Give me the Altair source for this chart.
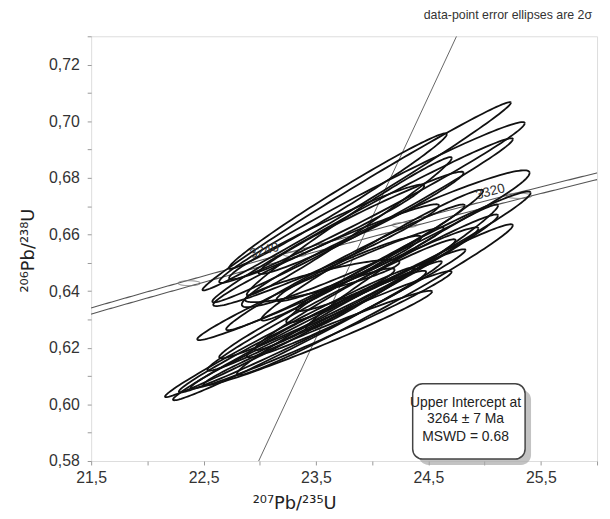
import math
import numpy as np
import pandas as pd
import altair as alt

FONT = "Liberation Sans"
TFONT = "DejaVu Sans"

# --- decay constants (Jaffey et al.) used for the concordia curve ---
L238 = 1.55125e-10
L235 = 9.8485e-10
L235_REL_2S = 0.00136      # 2-sigma relative uncertainty of lambda235 (band)
L238_REL_2S = 0.00107

# --- data-point error ellipses (2 sigma): 207Pb/235U, 2s, 206Pb/238U, 2s, rho ---
ell_x = [23.266, 23.424, 23.555, 23.546, 23.516, 23.638, 23.792, 23.682,
         24.037, 24.024, 23.590, 23.595, 23.555, 23.901, 23.792, 23.761,
         23.862, 23.998, 23.915, 24.120, 23.695, 23.796, 24.322, 24.265,
         23.762, 23.540, 24.000]
ell_sx = [1.109, 1.196, 1.275, 1.161, 1.017, 1.104, 1.153, 0.798,
          1.082, 1.227, 1.004, 0.868, 0.688, 0.912, 0.644, 0.438,
          1.372, 1.359, 1.337, 1.280, 0.969, 0.912, 1.087, 0.855,
          1.061, 1.096, 0.987]
ell_y = [0.6255, 0.6260, 0.6295, 0.6263, 0.6234, 0.6351, 0.6394, 0.6319,
         0.6431, 0.6370, 0.6527, 0.6609, 0.6436, 0.6641, 0.6480, 0.6405,
         0.6735, 0.6713, 0.6650, 0.6585, 0.6718, 0.6629, 0.6520, 0.6484,
         0.6484, 0.6426, 0.6527]
ell_sy = [0.02294, 0.02455, 0.02528, 0.02075, 0.01673, 0.02322, 0.02311, 0.01527,
          0.02397, 0.02661, 0.01798, 0.01671, 0.00751, 0.01807, 0.01155, 0.00753,
          0.03326, 0.02839, 0.02898, 0.02416, 0.02391, 0.02443, 0.02318, 0.02219,
          0.02220, 0.01990, 0.02310]
ell_rho = [0.991, 0.990, 0.989, 0.986, 0.982, 0.986, 0.983, 0.973,
           0.985, 0.985, 0.973, 0.973, 0.884, 0.977, 0.954, 0.929,
           0.9934, 0.985, 0.989, 0.962, 0.987, 0.987, 0.980, 0.984,
           0.984, 0.984, 0.983]

# --- concordia ---
conc_age_min, conc_age_max = 3140, 3370      # Ma, range drawn
marker_ages = [3200, 3240, 3280, 3320]        # Ma, age markers on concordia
label_ages = ["3240", "3320"]
label_x = [23.04, 25.05]
label_y = [0.6543, 0.6751]

# --- discordia (regression line) end points ---
disc_x = [22.99, 24.75]
disc_y = [0.58, 0.73]

# --- info box ---
box_x = [24.36, 25.36]
box_y = [0.5807, 0.6073]
box_lines = ["Upper Intercept at", "3264 \u00b1 7  Ma", "MSWD = 0.68"]
box_line_x = [24.83, 24.83, 24.83]
box_line_y = [0.6006, 0.5947, 0.5884]

x_ticks = [21.5, 22.0, 22.5, 23.0, 23.5, 24.0, 24.5, 25.0, 25.5, 26.0]
y_ticks = [0.58, 0.59, 0.60, 0.61, 0.62, 0.63, 0.64, 0.65, 0.66, 0.67,
           0.68, 0.69, 0.70, 0.71, 0.72, 0.73]

X_TITLE = "\u00b2\u2070\u2077Pb/\u00b2\u00b3\u2075U"
Y_TITLE = "\u00b2\u2070\u2076Pb/\u00b2\u00b3\u2078U"

# ---------- build tables ----------
rows = []
tt = np.linspace(0, 2 * math.pi, 145)
for k in range(len(ell_x)):
    r = ell_rho[k]
    for i, t in enumerate(tt):
        rows.append({
            "id": k, "i": i,
            "x": ell_x[k] + ell_sx[k] * math.cos(t),
            "y": ell_y[k] + ell_sy[k] * (r * math.cos(t) + math.sqrt(1 - r * r) * math.sin(t)),
        })
ell_df = pd.DataFrame(rows)

ages = np.arange(conc_age_min, conc_age_max + 1, 1.0) * 1e6
crow = []
for s, sign in enumerate([-1, 1]):
    for i, a in enumerate(ages):
        crow.append({"series": s, "i": i,
                     "x": math.exp(L235 * (1 + sign * L235_REL_2S) * a) - 1,
                     "y": math.exp(L238 * a) - 1})
conc_df = pd.DataFrame(crow)

mrow = []
for k, a in enumerate(marker_ages):
    t_ = a * 1e6
    cx = math.exp(L235 * t_) - 1
    cy = math.exp(L238 * t_) - 1
    sx = (cx + 1) * L235 * t_ * L235_REL_2S
    sy = (cy + 1) * L238 * t_ * L238_REL_2S
    for i, t in enumerate(tt):
        mrow.append({"id": k, "i": i, "x": cx + sx * math.cos(t), "y": cy + sy * math.sin(t)})
mark_df = pd.DataFrame(mrow)

disc_df = pd.DataFrame({"x": disc_x, "y": disc_y})
lab_df = pd.DataFrame({"x": label_x, "y": label_y, "t": label_ages})
box_df = pd.DataFrame({"x": [box_x[0]], "x2": [box_x[1]], "y": [box_y[0]], "y2": [box_y[1]]})
btxt_df = pd.DataFrame({"x": box_line_x, "y": box_line_y, "t": box_lines})

# ---------- scales & axes ----------
X_SCALE = alt.Scale(domain=[21.5, 26.0], nice=False, zero=False)
Y_SCALE = alt.Scale(domain=[0.58, 0.73], nice=False, zero=False)

x_axis = alt.Axis(
    values=x_ticks,
    labelExpr="abs((datum.value-21.5)%1)<0.01 ? replace(format(datum.value,'.1f'),'.',',') : ''",
    labelOverlap=False, labelFlush=False,
    tickSize=4, tickColor="#999", tickWidth=1,
    labelFontSize=16, labelColor="#333", labelFont=FONT, labelPadding=5,
    domain=False, grid=False,
    titleFontSize=18, titleFont=TFONT, titleFontWeight="normal", titleColor="#222",
    titleX=205, titleY=48, titleBaseline="alphabetic", titleAlign="center",
)
y_axis = alt.Axis(
    values=y_ticks,
    labelExpr="round(datum.value*100)%2==0 ? replace(format(datum.value,'.2f'),'.',',') : ''",
    labelOverlap=False, labelFlush=False,
    tickSize=4, tickColor="#999", tickWidth=1,
    labelFontSize=16, labelColor="#333", labelFont=FONT, labelPadding=8,
    domain=False, grid=False,
    titleFontSize=18, titleFont=TFONT, titleFontWeight="normal", titleColor="#222",
    titleAngle=270, titleX=-58, titleY=216, titleBaseline="alphabetic", titleAlign="center",
)


def ex(f="x"):
    return alt.X(f"{f}:Q", scale=X_SCALE, axis=x_axis, title=X_TITLE)


def ey(f="y"):
    return alt.Y(f"{f}:Q", scale=Y_SCALE, axis=y_axis, title=Y_TITLE)


conc = alt.Chart(conc_df).mark_line(color="#555", strokeWidth=1.1, clip=True).encode(
    x=ex(), y=ey(), detail="series:N", order="i:Q")

marks = alt.Chart(mark_df).mark_line(color="#777", strokeWidth=1, clip=True).encode(
    x=ex(), y=ey(), detail="id:N", order="i:Q")

disc = alt.Chart(disc_df).mark_line(color="#666", strokeWidth=1, clip=True).encode(
    x=ex(), y=ey())

ells = alt.Chart(ell_df).mark_line(color="#111", strokeWidth=1.8, clip=True).encode(
    x=ex(), y=ey(), detail="id:N", order="i:Q")

labs = alt.Chart(lab_df).mark_text(fontSize=13.5, color="#333", font=FONT, angle=345).encode(
    x=ex(), y=ey(), text="t:N")

shadow = alt.Chart(box_df).mark_rect(
    cornerRadius=10, color="#aaa", opacity=0.7,
    xOffset=6, x2Offset=6, yOffset=6, y2Offset=6).encode(
    x=ex(), x2="x2:Q", y=ey(), y2="y2:Q")

box = alt.Chart(box_df).mark_rect(
    cornerRadius=10, fill="white", stroke="#444", strokeWidth=1.5).encode(
    x=ex(), x2="x2:Q", y=ey(), y2="y2:Q")

btxt = alt.Chart(btxt_df).mark_text(
    fontSize=14, color="#222", font=FONT, align="center").encode(
    x=ex(), y=ey(), text="t:N")

chart = alt.layer(conc, marks, disc, ells, labs, shadow, box, btxt).properties(
    width=511, height=429,
    padding={"left": 84, "top": 26, "right": 5, "bottom": 55},
    autosize=alt.AutoSizeParams(type="none"),
    title=alt.TitleParams(
        "data-point error ellipses are 2\u03c3", anchor="end", frame="group",
        fontSize=12.5, fontWeight="normal", color="#333", font=FONT, offset=7, dx=-5),
).configure_view(stroke="#888", strokeWidth=1.5).configure(background="white")

chart.save("out.html", embed_options={"renderer": "svg", "actions": False})
